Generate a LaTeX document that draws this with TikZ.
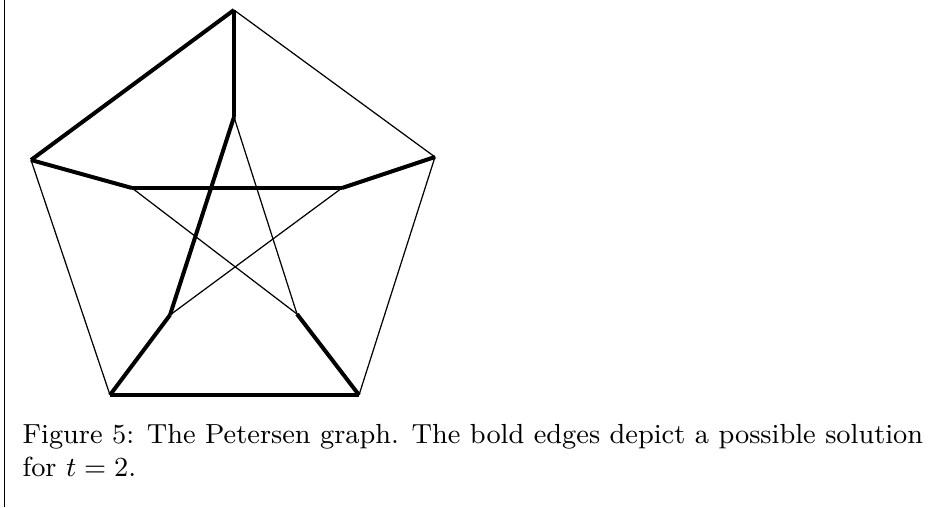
\documentclass[tikz,border=0pt]{standalone}
\usepackage{amsmath,amssymb}
\usepackage{xcolor}
\usepackage{tikz}

\begin{document}
\begin{tikzpicture}[x=0.326pt,y=-0.326pt,
  thinedge/.style={line width=0.4pt},
  boldedge/.style={line width=1.3pt}]
\useasboundingbox (0,0) rectangle (938,507);
% left rule
\coordinate (rtop) at (4.5,0);
\coordinate (rbot) at (4.5,507);
\draw[line width=0.45pt] (rtop) -- (rbot);
% outer vertices
\coordinate (o1) at (234,10);
\coordinate (o2) at (435,157);
\coordinate (o3) at (359,395);
\coordinate (o4) at (110,395);
\coordinate (o5) at (31,160);
% inner vertices
\coordinate (i1) at (234,117);
\coordinate (i2) at (342,188);
\coordinate (i3) at (297,314);
\coordinate (i4) at (170,315);
\coordinate (i5) at (132,188);
% thin edges
\foreach \a/\b in {o1/o2,o2/o3,o4/o5,i1/i3,i2/i4,i3/i5}{
  \draw[thinedge] (\a) -- (\b);
}
% bold edges (the solution)
\foreach \a/\b in {o5/o1,o1/i1,o2/i2,o3/i3,o4/i4,o3/o4,i1/i4,i2/i5,o5/i5}{
  \draw[boldedge] (\a) -- (\b);
}
% caption
\node[anchor=base west,inner sep=0pt,align=left,
  font=\fontsize{9.0}{10.6}\selectfont] (caption) at (22,476)
  {Figure 5: The Petersen graph. The bold edges depict a possible solution\\for $t=2$.};
\end{tikzpicture}
\end{document}
